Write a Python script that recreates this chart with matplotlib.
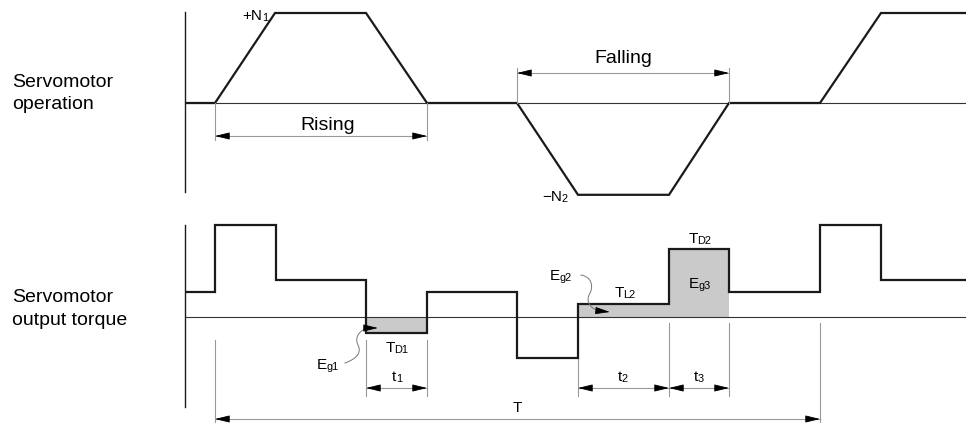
import matplotlib
matplotlib.use("Agg")
import matplotlib.pyplot as plt
import numpy as np

plt.rcParams['font.family'] = ['Liberation Sans', 'DejaVu Sans']

# ---------------- data ----------------
# speed profile (time in drawing units, speed normalised to N1)
speed_t = [185, 215, 275, 366, 427, 517, 578, 669, 729, 820, 881, 966]
speed_v = [0, 0, 1.0, 1.0, 0, 0, -1.02, -1.02, 0, 0, 1.0, 1.0]

# torque profile (step edges, levels)
torque_edges = [185, 215, 276, 366, 427, 517, 578, 669, 729, 820, 881, 966]
torque_levels = [25, 92, 37, -16, 25, -41, 13, 68, 25, 92, 37]

# shaded regenerative energy regions: (start, end, level)
regen_regions = [(366, 427, -16), (578, 669, 13), (669, 729, 68)]

# dimension markers
rising_span = (215, 427)
falling_span = (517, 729)
t1_span = (366, 427)
t2_span = (578, 669)
t3_span = (669, 729)
T_span = (215, 820)

FIG_W, FIG_H = 966, 423
DPI = 100
fig = plt.figure(figsize=(9.66, 4.23), dpi=DPI)
renderer = fig.canvas.get_renderer()

# top axes covers pixel rows 0..210
top = fig.add_axes([0, (FIG_H - 210) / FIG_H, 1, 210 / FIG_H])
top.set_xlim(0, FIG_W)
top.set_ylim(-(210 - 103) / 90, 103 / 90)
top.axis('off')

# bottom axes covers pixel rows 210..423
bot = fig.add_axes([0, 0, 1, 213 / FIG_H])
bot.set_xlim(0, FIG_W)
bot.set_ylim(-106, 107)
bot.axis('off')

TRACE = dict(color='#1a1a1a', lw=1.6, solid_joinstyle='miter', solid_capstyle='butt')
AXIS = dict(color='#1a1a1a', lw=1.0)
BASE = dict(color='#333333', lw=0.8)
DIM = dict(color='#999999', lw=0.8)
SMALL = 11
BIG = 14

GAP = -0.3   # points between main text and subscript
DROP = -0.8  # subscript baseline drop, points


def sub_text(ax, x, y, main, sub, fs=SMALL, ha='center'):
    """Main text followed by a smaller, slightly lowered subscript."""
    t1 = ax.annotate(main, xy=(x, y), xytext=(0, 0), textcoords='offset points',
                     fontsize=fs, ha='left', va='baseline')
    w1 = t1.get_window_extent(renderer).width * 72 / DPI
    t2 = ax.annotate(sub, xy=(x, y), xytext=(w1 + GAP, DROP), textcoords='offset points',
                     fontsize=fs * 0.72, ha='left', va='baseline')
    w2 = t2.get_window_extent(renderer).width * 72 / DPI
    tot = w1 + GAP + w2
    shift = {'center': -tot / 2, 'left': 0, 'right': -tot}[ha]
    t1.set_position((shift, 0))
    t2.set_position((w1 + GAP + shift, DROP))


def dim_arrow(ax, x0, x1, y, head_len):
    ax.plot([x0, x1], [y, y], **DIM, zorder=2)
    for xa, xb in ((x0 + head_len, x0), (x1 - head_len, x1)):
        ax.annotate('', xy=(xb, y), xytext=(xa, y),
                    arrowprops=dict(arrowstyle='-|>,head_length=0.9,head_width=0.22',
                                    color='black', lw=0.6, shrinkA=0, shrinkB=0,
                                    mutation_scale=10), zorder=3)


# ---------- top: servomotor operation ----------
top.plot([185, 185], [1.01, -0.99], **AXIS)
top.plot([185, 966], [0, 0], **BASE)
top.plot(speed_t, speed_v, **TRACE)

# Rising dimension
for x in rising_span:
    top.plot([x, x], [0, -0.41], **DIM)
dim_arrow(top, rising_span[0], rising_span[1], -(136 - 103) / 90, 12)
top.text(328, -(129.5 - 103) / 90, 'Rising', fontsize=BIG, ha='center', va='baseline')

# Falling dimension
for x in falling_span:
    top.plot([x, x], [0, (103 - 68) / 90], **DIM)
dim_arrow(top, falling_span[0], falling_span[1], (103 - 73) / 90, 12)
top.text(623, (103 - 63) / 90, 'Falling', fontsize=BIG, ha='center', va='baseline')

sub_text(top, 255, (103 - 20) / 90, '+N', '1')
sub_text(top, 555, (103 - 201) / 90, '\u2212N', '2')

# ---------- bottom: output torque ----------
bot.plot([185, 185], [92, -90], **AXIS)
bot.plot([185, 966], [0, 0], **BASE, zorder=3)

for (a, b, lev) in regen_regions:
    bot.fill_between([a, b], [0, 0], [lev, lev], color='#cacaca', lw=0, zorder=1)

bot.plot(torque_edges, torque_levels + [torque_levels[-1]], drawstyle='steps-post',
         **TRACE, zorder=4)

# extension lines
for x in t1_span:
    bot.plot([x, x], [-23, -79], **DIM)
for x in (t2_span[0], t2_span[1], t3_span[1]):
    bot.plot([x, x], [-6, -79], **DIM)
bot.plot([T_span[0], T_span[0]], [-23, -106], **DIM)
bot.plot([T_span[1], T_span[1]], [-6, -106], **DIM)

dim_arrow(bot, t1_span[0], t1_span[1], -71, 11)
dim_arrow(bot, t2_span[0], t2_span[1], -71, 11)
dim_arrow(bot, t3_span[0], t3_span[1], -71, 11)
dim_arrow(bot, T_span[0], T_span[1], -102, 11)

sub_text(bot, 397, -35, 'T', 'D1')
sub_text(bot, 397, -64, 't', '1')
sub_text(bot, 623, -64, 't', '2')
sub_text(bot, 699, -64, 't', '3')
sub_text(bot, 700, 74, 'T', 'D2')
sub_text(bot, 700, 29, 'E', 'g3')
sub_text(bot, 625, 20, 'T', 'L2')
sub_text(bot, 561, 37, 'E', 'g2')
sub_text(bot, 328, -52, 'E', 'g1')
bot.text(517, -95, 'T', fontsize=SMALL, ha='center', va='baseline')


def bezier(pts, n=40):
    pts = np.asarray(pts, float)
    t = np.linspace(0, 1, n)[:, None]
    return ((1 - t) ** 3 * pts[0] + 3 * (1 - t) ** 2 * t * pts[1]
            + 3 * (1 - t) * t ** 2 * pts[2] + t ** 3 * pts[3])


# Eg1 leader (wavy)
c1 = bezier([(345, -46), (356, -42), (362, -36), (358, -28)])
c2 = bezier([(358, -28), (354, -20), (360, -12), (370, -11)])
curve = np.vstack([c1, c2])
bot.plot(curve[:, 0], curve[:, 1], color='#777777', lw=0.7, zorder=5)
bot.annotate('', xy=(378, -11), xytext=(369, -11),
             arrowprops=dict(arrowstyle='-|>,head_length=0.9,head_width=0.22',
                             color='black', lw=0.6, shrinkA=0, shrinkB=0,
                             mutation_scale=10), zorder=6)

# Eg2 leader (wavy)
c1 = bezier([(581, 42), (592, 40), (594, 30), (589, 22)])
c2 = bezier([(589, 22), (585, 12), (595, 6), (602, 6)])
curve = np.vstack([c1, c2])
bot.plot(curve[:, 0], curve[:, 1], color='#777777', lw=0.7, zorder=5)
bot.annotate('', xy=(610, 5), xytext=(600, 6),
             arrowprops=dict(arrowstyle='-|>,head_length=0.9,head_width=0.22',
                             color='black', lw=0.6, shrinkA=0, shrinkB=0,
                             mutation_scale=10), zorder=6)

# left labels
fig.text(12 / FIG_W, 1 - 87 / FIG_H, 'Servomotor', fontsize=BIG, ha='left', va='baseline')
fig.text(12 / FIG_W, 1 - 109 / FIG_H, 'operation', fontsize=BIG, ha='left', va='baseline')
fig.text(12 / FIG_W, 1 - 302 / FIG_H, 'Servomotor', fontsize=BIG, ha='left', va='baseline')
fig.text(12 / FIG_W, 1 - 325 / FIG_H, 'output torque', fontsize=BIG, ha='left', va='baseline')

fig.savefig('out.png', dpi=DPI, facecolor='white')
